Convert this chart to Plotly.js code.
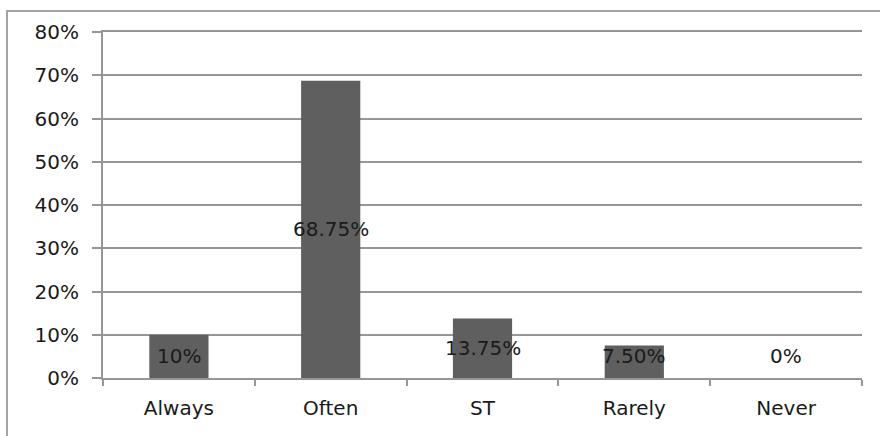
<!DOCTYPE html>
<html>
<head>
<meta charset="utf-8">
<script src="https://cdn.plot.ly/plotly-3.0.1.min.js"></script>
<style>
  html, body { margin: 0; padding: 0; background: #fff; }
  #frame { position: absolute; left: 6px; top: 10px; width: 880px; height: 440px;
           border-left: 2px solid #a3a3a3; border-top: 2px solid #a3a3a3; }
  #chart { position: absolute; left: 0; top: 0; width: 880px; height: 436px; }
</style>
</head>
<body>
<div id="frame"></div>
<div id="chart"></div>
<script>
const categories = ["Always", "Often", "ST", "Rarely", "Never"];
const values = [10, 68.75, 13.75, 7.5, 0];
const valueLabels = ["10%", "68.75%", "13.75%", "7.50%", "0%"];
const yTickVals = [0, 10, 20, 30, 40, 50, 60, 70, 80];

const fontFamily = "DejaVu Sans, Verdana, sans-serif";

const trace = {
  type: "bar",
  x: categories,
  y: values,
  marker: { color: "#5f5f5f", line: { width: 0 } },
  hoverinfo: "skip"
};

const annotations = categories.map((c, i) => ({
  x: c,
  y: Math.max(values[i] / 2, 5),
  xref: "x",
  yref: "y",
  text: valueLabels[i],
  showarrow: false,
  font: { family: fontFamily, size: 20, color: "#1a1a1a" }
}));

const layout = {
  width: 880,
  height: 436,
  margin: { l: 103, r: 18, t: 32, b: 58 },
  paper_bgcolor: "rgba(0,0,0,0)",
  plot_bgcolor: "rgba(0,0,0,0)",
  bargap: 0.61,
  showlegend: false,
  font: { family: fontFamily, size: 20, color: "#1a1a1a" },
  xaxis: {
    type: "category",
    showline: true,
    mirror: true,
    linecolor: "#969696",
    linewidth: 2,
    ticks: "outside",
    tickson: "boundaries",
    ticklen: 6,
    tickwidth: 2,
    tickcolor: "#969696",
    showgrid: false,
    ticklabelstandoff: 11,
    tickfont: { family: fontFamily, size: 20, color: "#1a1a1a" }
  },
  yaxis: {
    range: [0, 80],
    tickvals: yTickVals,
    ticktext: yTickVals.map(v => v + "%"),
    showline: true,
    linecolor: "#969696",
    linewidth: 2,
    ticks: "outside",
    ticklen: 9,
    tickwidth: 2,
    tickcolor: "#969696",
    showgrid: true,
    gridcolor: "#969696",
    gridwidth: 2,
    zeroline: false,
    ticklabelstandoff: 9,
    tickfont: { family: fontFamily, size: 20, color: "#1a1a1a" }
  },
  annotations: annotations
};

Plotly.newPlot("chart", [trace], layout, { displayModeBar: false, staticPlot: true });
</script>
</body>
</html>
